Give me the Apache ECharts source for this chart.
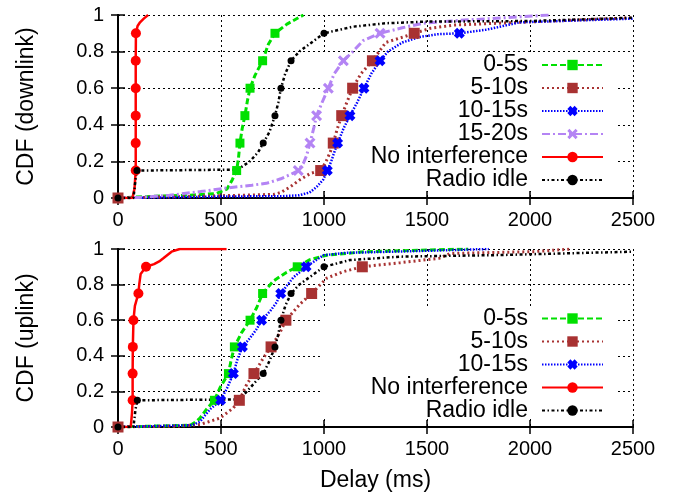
<!DOCTYPE html>
<html><head><meta charset="utf-8">
<script src="https://cdn.jsdelivr.net/npm/echarts@6/dist/echarts.min.js"></script>
<style>html,body{margin:0;padding:0;background:#fff}#c{width:681px;height:500px}</style>
</head><body><div id="c"></div>
<script>
// ---------- data ----------
const xTicks = [0, 500, 1000, 1500, 2000, 2500];
const yTicks = [0, 0.2, 0.4, 0.6, 0.8, 1];
const xAxisTitle = 'Delay (ms)';
const yTitleDown = 'CDF (downlink)';
const yTitleUp = 'CDF (uplink)';
const namesDown = ['0-5s', '5-10s', '10-15s', '15-20s', 'No interference', 'Radio idle'];
const namesUp = ['0-5s', '5-10s', '10-15s', 'No interference', 'Radio idle'];

// downlink CDFs [delay ms, cdf]
const down05 = [[0,0],[180,0.01],[350,0.015],[480,0.025],[530,0.05],[555,0.1],[576,0.15],[585,0.22],[592,0.3],[603,0.38],[616,0.45],[628,0.53],[641,0.6],[665,0.67],[702,0.75],[730,0.84],[762,0.9],[820,0.95],[900,1.0]];
const down510 = [[0,0],[200,0.005],[400,0.01],[600,0.015],[760,0.02],[790,0.03],[835,0.06],[883,0.1],[935,0.135],[984,0.15],[1010,0.2],[1030,0.25],[1045,0.3],[1065,0.38],[1086,0.45],[1110,0.52],[1139,0.6],[1180,0.68],[1235,0.75],[1300,0.85],[1385,0.88],[1438,0.9],[1515,0.927],[1630,0.945],[1950,0.96],[2500,0.985]];
const down1015 = [[0,0],[200,0.003],[500,0.008],[800,0.01],[880,0.015],[930,0.03],[964,0.06],[996,0.1],[1016,0.15],[1035,0.2],[1050,0.25],[1066,0.3],[1095,0.38],[1126,0.45],[1160,0.52],[1194,0.6],[1230,0.68],[1272,0.75],[1310,0.8],[1380,0.85],[1466,0.88],[1550,0.895],[1657,0.9],[1790,0.92],[1950,0.96],[2500,0.98]];
const down1520 = [[0,0],[100,0.003],[250,0.015],[400,0.035],[530,0.055],[650,0.07],[720,0.08],[790,0.105],[840,0.13],[875,0.15],[900,0.19],[915,0.23],[932,0.3],[950,0.38],[964,0.45],[990,0.52],[1021,0.6],[1050,0.68],[1094,0.75],[1140,0.8],[1190,0.86],[1272,0.9],[1380,0.93],[1480,0.955],[1650,0.97],[1800,0.98],[2100,1.0]];
const downNoInt = [[0,0],[70,0],[80,0.05],[86,0.15],[86,0.3],[86,0.45],[86,0.6],[86,0.75],[87,0.9],[95,0.94],[107,0.96],[125,0.98],[146,1.0]];
const downIdle = [[0,0],[75,0],[85,0.1],[92,0.15],[570,0.155],[600,0.17],[640,0.2],[680,0.25],[705,0.3],[735,0.36],[762,0.45],[778,0.52],[791,0.6],[812,0.68],[840,0.75],[880,0.8],[940,0.85],[1000,0.9],[1140,0.936],[1300,0.955],[1500,0.964],[2000,0.967],[2500,0.985]];

// uplink CDFs [delay ms, cdf]
const up05 = [[0,0],[100,0.003],[350,0.01],[380,0.03],[398,0.05],[430,0.1],[468,0.15],[495,0.22],[536,0.3],[550,0.38],[565,0.45],[600,0.53],[641,0.6],[673,0.67],[702,0.75],[754,0.82],[819,0.87],[870,0.9],[932,0.94],[1013,0.965],[1200,0.985],[1700,1.0]];
const up510 = [[0,0],[100,0.002],[300,0.005],[398,0.014],[495,0.05],[560,0.107],[589,0.15],[625,0.24],[660,0.3],[707,0.39],[743,0.45],[786,0.53],[815,0.6],[883,0.69],[940,0.75],[1013,0.836],[1094,0.873],[1186,0.9],[1370,0.923],[1560,0.948],[1612,0.975],[2015,0.985],[2200,1.0]];
const up1015 = [[0,0],[100,0.003],[360,0.01],[398,0.03],[447,0.1],[498,0.15],[530,0.22],[560,0.3],[580,0.38],[604,0.45],[641,0.5],[673,0.55],[697,0.6],[738,0.65],[770,0.7],[790,0.75],[851,0.84],[913,0.9],[997,0.965],[1100,0.978],[1500,0.99],[1800,1.0]];
const upNoInt = [[0,0],[62,0],[68,0.08],[71,0.15],[71,0.3],[72,0.45],[75,0.6],[82,0.68],[99,0.75],[103,0.8],[110,0.86],[136,0.9],[175,0.915],[200,0.93],[220,0.948],[260,0.985],[300,1.0],[527,1.0]];
const upIdle = [[0,0],[75,0],[85,0.1],[94,0.15],[580,0.155],[610,0.18],[641,0.22],[680,0.27],[705,0.3],[735,0.37],[762,0.45],[778,0.52],[791,0.6],[812,0.68],[840,0.75],[880,0.8],[940,0.85],[1000,0.9],[1126,0.938],[1370,0.957],[1850,0.966],[2500,0.985]];

// ---------- styles ----------
const fatX = 'path://M0,3 L3,0 L5,2 L7,0 L10,3 L8,5 L10,7 L7,10 L5,8 L3,10 L0,7 L2,5 Z';
const thinX = 'path://M0,2 L2,0 L5,3 L8,0 L10,2 L7,5 L10,8 L8,10 L5,7 L2,10 L0,8 L3,5 Z';
const styles = {
  '0-5s':            {color: '#00e000', type: [6, 3], width: 3, symbol: 'rect', size: 9, origin: false},
  '5-10s':           {color: '#a83232', type: [2, 3], width: 3, symbol: 'rect', size: 11, origin: true},
  '10-15s':          {color: '#0000ff', type: [1.5, 1.5], width: 2.5, symbol: fatX, size: 11, origin: false},
  '15-20s':          {color: '#b484f4', type: [8, 3, 2, 3], width: 3, symbol: thinX, size: 11, origin: false},
  'No interference': {color: '#ff0000', type: 'solid', width: 2.5, symbol: 'circle', size: 10, origin: false},
  'Radio idle':      {color: '#000000', type: [3, 2.5, 1.5, 2.5], width: 2.5, symbol: 'circle', size: 7, origin: true}
};

function isMark(v, idx, st) {
  if (idx === 0) return st.origin;
  const y = v[1];
  if (y <= 0 || y > 0.9 + 1e-9) return false;
  const r = y / 0.15;
  return Math.abs(r - Math.round(r)) < 1e-6;
}

function mkSeries(name, data, g) {
  const st = styles[name];
  return {
    name: name, type: 'line', data: data,
    xAxisIndex: g * 2, yAxisIndex: g * 2,
    showSymbol: true, showAllSymbol: true,
    symbol: st.symbol,
    symbolSize: function (v, p) { return isMark(v, p.dataIndex, st) ? st.size : 0; },
    lineStyle: {color: st.color, width: st.width, type: st.type},
    itemStyle: {color: st.color},
    emphasis: {disabled: true},
    animation: false, clip: true
  };
}

const fontFam = '"Liberation Sans", Arial, Helvetica, sans-serif';
const grids = [
  {left: 118, top: 15, width: 515, height: 183},
  {left: 118, top: 249, width: 515, height: 178}
];

function xAxes(g) {
  return [
    {type: 'value', gridIndex: g, position: 'bottom', min: 0, max: 2500, interval: 500,
     name: g === 1 ? xAxisTitle : '', nameLocation: 'middle', nameGap: 42,
     nameTextStyle: {fontSize: 23, color: '#000', fontFamily: fontFam},
     axisLine: {show: true, lineStyle: {color: '#000', width: 2}},
     axisTick: {show: true, inside: true, length: 7, lineStyle: {color: '#000', width: 1.5}},
     axisLabel: {show: true, margin: 12, fontSize: 20, color: '#000', fontFamily: fontFam, formatter: v => String(v)},
     splitLine: {show: true, lineStyle: {color: '#000', width: 1, type: [2, 3]}}},
    {type: 'value', gridIndex: g, position: 'top', min: 0, max: 2500, interval: 500,
     axisLine: {show: true, lineStyle: {color: '#000', width: 2}},
     axisTick: {show: true, inside: true, length: 7, lineStyle: {color: '#000', width: 1.5}},
     axisLabel: {show: false}, splitLine: {show: false}}
  ];
}
function yAxes(g) {
  return [
    {type: 'value', gridIndex: g, position: 'left', min: 0, max: 1, interval: 0.2,
     name: g === 0 ? yTitleDown : yTitleUp, nameLocation: 'middle', nameGap: 80, nameRotate: 90,
     nameTextStyle: {fontSize: 23, color: '#000', fontFamily: fontFam},
     axisLine: {show: true, lineStyle: {color: '#000', width: 2}},
     axisTick: {show: true, inside: true, length: 7, lineStyle: {color: '#000', width: 1.5}},
     axisLabel: {show: true, margin: 14, fontSize: 20, color: '#000', fontFamily: fontFam, formatter: v => String(v)},
     splitLine: {show: true, lineStyle: {color: '#000', width: 1, type: [2, 3]}}},
    {type: 'value', gridIndex: g, position: 'right', min: 0, max: 1, interval: 0.2,
     axisLine: {show: true, lineStyle: {color: '#000', width: 2}},
     axisTick: {show: true, inside: true, length: 7, lineStyle: {color: '#000', width: 1.5}},
     axisLabel: {show: false}, splitLine: {show: false}}
  ];
}

const downData = [down05, down510, down1015, down1520, downNoInt, downIdle];
const upData = [up05, up510, up1015, upNoInt, upIdle];
const series = [];
namesDown.forEach((n, i) => series.push(mkSeries(n, downData[i], 0)));
namesUp.forEach((n, i) => series.push(mkSeries(n, upData[i], 1)));

function mkLegend(names, top) {
  return {
    orient: 'vertical', align: 'right', right: 77, top: top, padding: 0, itemGap: 0,
    itemWidth: 61, itemHeight: 13, data: names, selectedMode: false,
    textStyle: {fontSize: 23, lineHeight: 23, color: '#000', fontFamily: fontFam, padding: [0, 9, 0, 0]}
  };
}

const chart = echarts.init(document.getElementById('c'), null, {renderer: 'canvas'});
chart.setOption({
  backgroundColor: '#fff',
  animation: false,
  grid: grids,
  xAxis: xAxes(0).concat(xAxes(1)),
  yAxis: yAxes(0).concat(yAxes(1)),
  legend: [mkLegend(namesDown, 53.5), mkLegend(namesUp, 307)],
  graphic: [
    {type: 'rect', z: 1, silent: true, shape: {x: 320, y: 54, width: 298, height: 137}, style: {fill: '#fff'}},
    {type: 'rect', z: 1, silent: true, shape: {x: 320, y: 307, width: 298, height: 112}, style: {fill: '#fff'}}
  ],
  series: series
});
</script></body></html>
